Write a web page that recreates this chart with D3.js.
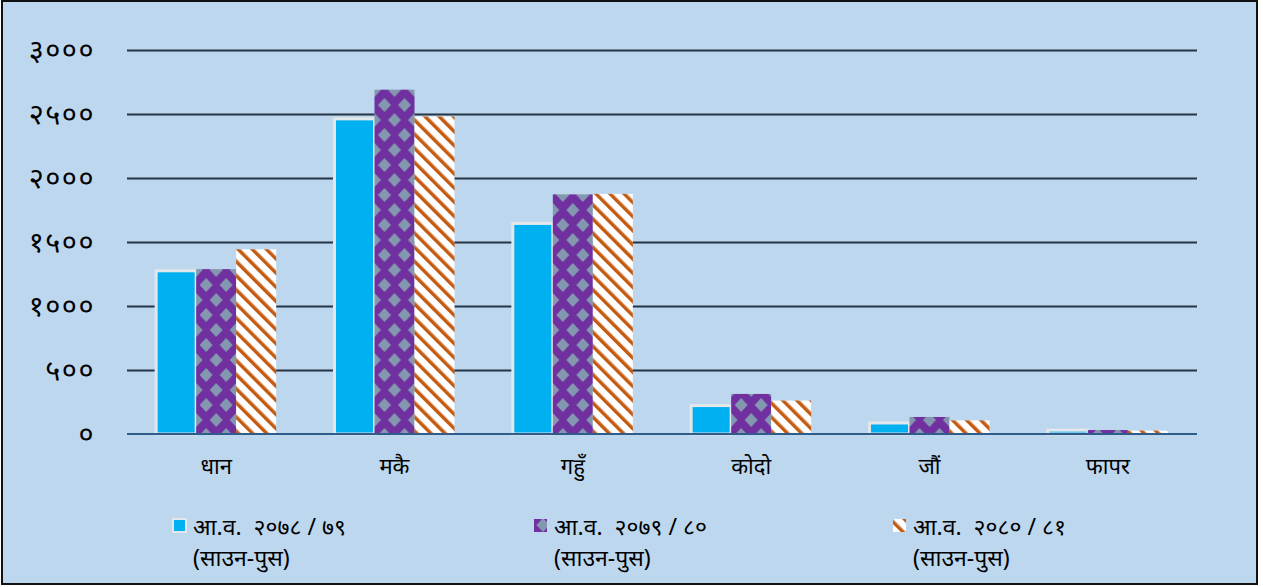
<!DOCTYPE html>
<html>
<head>
<meta charset="utf-8">
<script src="https://cdn.jsdelivr.net/npm/d3@7"></script>
<style>
  html, body { margin: 0; padding: 0; background: #fff; }
  svg text { font-family: "Noto Sans", "Noto Sans Devanagari", sans-serif; fill: #000; }
</style>
</head>
<body>
<div id="chart"></div>
<script>
"use strict";

// crops (categories)
var crops = ["धान", "मकै", "गहुँ", "कोदो", "जौं", "फापर"];

// series: fiscal years, Shrawan-Poush
var seriesNames = ["आ.व.  २०७८ / ७९", "आ.व.  २०७९ / ८०", "आ.व.  २०८० / ८१"];
var seriesSub = ["(साउन-पुस)", "(साउन-पुस)", "(साउन-पुस)"];

var fy7879 = [1275, 2462, 1645, 222, 86, 30];
var fy7980 = [1288, 2690, 1872, 313, 133, 31];
var fy8081 = [1443, 2480, 1876, 261, 106, 26];

var yTicks = [0, 500, 1000, 1500, 2000, 2500, 3000];
var yTickLabels = ["०", "५००", "१०००", "१५००", "२०००", "२५००", "३०००"];

var width = 1263, height = 587;

var svg = d3.select("#chart").append("svg")
    .attr("width", width)
    .attr("height", height);

var defs = svg.append("defs");

// purple with grey diamonds
var pDia = defs.append("pattern")
    .attr("id", "diamonds")
    .attr("patternUnits", "userSpaceOnUse")
    .attr("width", 20).attr("height", 30);
pDia.append("rect").attr("width", 20).attr("height", 30).attr("fill", "#7030A0");
[[0, 0], [20, 0], [0, 30], [20, 30], [10, 15]].forEach(function (c) {
    pDia.append("path")
        .attr("d", "M" + c[0] + "," + (c[1] - 7) + "L" + (c[0] + 6.5) + "," + c[1] +
            "L" + c[0] + "," + (c[1] + 7) + "L" + (c[0] - 6.5) + "," + c[1] + "Z")
        .attr("fill", "#8497B0");
});

// orange diagonal stripes on white (running down to the right)
var pStr = defs.append("pattern")
    .attr("id", "stripes")
    .attr("patternUnits", "userSpaceOnUse")
    .attr("width", 10).attr("height", 10)
    .attr("patternTransform", "rotate(-45)");
pStr.append("rect").attr("width", 10).attr("height", 10).attr("fill", "#fff");
pStr.append("rect").attr("x", 0).attr("width", 3.5).attr("height", 10).attr("fill", "#C55A11");

var fills = ["#00B0F0", "url(#diamonds)", "url(#stripes)"];

// background + frame
svg.append("rect")
    .attr("x", 2).attr("y", 1)
    .attr("width", 1255).attr("height", 583)
    .attr("fill", "#BDD7EE")
    .attr("stroke", "#111")
    .attr("stroke-width", 2);

var x0 = d3.scaleBand()
    .domain(crops)
    .range([127, 1197])
    .paddingInner(0.327)
    .paddingOuter(0.1635);

var x1 = d3.scaleBand()
    .domain(d3.range(3))
    .range([0, x0.bandwidth()]);

var y = d3.scaleLinear()
    .domain([0, 3000])
    .range([434, 50]);

// gridlines
var grid = svg.append("g")
    .attr("transform", "translate(127,0)")
    .call(d3.axisLeft(y).tickValues(yTicks.slice(1)).tickSize(-1070).tickFormat(""));
grid.select(".domain").remove();
grid.selectAll(".tick line")
    .attr("stroke", "#263445")
    .attr("stroke-width", 2);

// y labels
svg.append("g").selectAll("text")
    .data(yTicks)
    .enter().append("text")
    .attr("x", 95)
    .attr("y", function (d) { return y(d) + 10; })
    .attr("text-anchor", "end")
    .style("font-size", "29px")
    .style("letter-spacing", "1.5px")
    .text(function (d, i) { return yTickLabels[i]; });

// bars
var data = crops.map(function (c, i) {
    return { crop: c, vals: [fy7879[i], fy7980[i], fy8081[i]] };
});

var groups = svg.append("g").selectAll("g")
    .data(data)
    .enter().append("g")
    .attr("transform", function (d) { return "translate(" + x0(d.crop) + ",0)"; });

groups.selectAll("rect")
    .data(function (d) { return d.vals; })
    .enter().append("rect")
    .attr("x", function (d, i) { return x1(i); })
    .attr("y", function (d) { return y(d); })
    .attr("width", x1.bandwidth())
    .attr("height", function (d) { return y(0) - y(d); })
    .attr("fill", function (d, i) { return fills[i]; })
    .attr("stroke", function (d, i) { return i === 0 ? "#E3E6EA" : "none"; })
    .attr("stroke-width", 3);

// baseline
svg.append("line")
    .attr("x1", 127).attr("x2", 1197)
    .attr("y1", y(0)).attr("y2", y(0))
    .attr("stroke", "#2F5C8A")
    .attr("stroke-width", 2);

// category labels
svg.append("g").selectAll("text")
    .data(crops)
    .enter().append("text")
    .attr("x", function (d) { return x0(d) + x0.bandwidth() / 2; })
    .attr("y", 474)
    .attr("text-anchor", "middle")
    .style("font-size", "22px")
    .text(function (d) { return d; });

// legend
var legX = [172, 533, 892];
var leg = svg.append("g").selectAll("g")
    .data(seriesNames)
    .enter().append("g")
    .attr("transform", function (d, i) { return "translate(" + legX[i] + ",0)"; });

leg.append("rect")
    .attr("x", 1).attr("y", 519)
    .attr("width", 13).attr("height", 13)
    .attr("fill", function (d, i) { return fills[i]; })
    .attr("stroke", function (d, i) { return i === 0 ? "#E3E6EA" : "none"; })
    .attr("stroke-width", 2);

leg.append("text")
    .attr("x", 21).attr("y", 535)
    .style("font-size", "23px")
    .style("white-space", "pre")
    .text(function (d) { return d; });

leg.append("text")
    .attr("x", 21).attr("y", 566)
    .style("font-size", "23px")
    .text(function (d, i) { return seriesSub[i]; });
</script>
</body>
</html>
